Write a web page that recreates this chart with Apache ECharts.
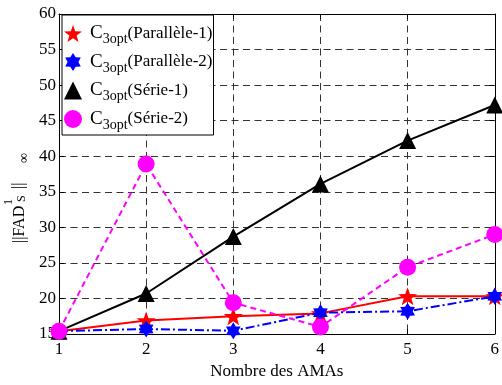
<!DOCTYPE html>
<html>
<head>
<meta charset="utf-8">
<script src="https://cdn.jsdelivr.net/npm/echarts@6/dist/echarts.min.js"></script>
<style>html,body{margin:0;padding:0;background:#fff;}#c{width:502px;height:385px;}</style>
</head>
<body>
<div id="c"></div>
<script>
// ---- data ----
const xValues = [1, 2, 3, 4, 5, 6];
const parallele1 = [15.4, 16.9, 17.5, 17.9, 20.3, 20.3];
const parallele2 = [15.4, 15.7, 15.45, 18.0, 18.2, 20.3];
const serie1 = [15.4, 20.7, 28.7, 36.1, 42.2, 47.2];
const serie2 = [15.4, 38.9, 19.4, 16.0, 24.4, 29.0];
const seriesNames = ['(Parallèle-1)', '(Parallèle-2)', '(Série-1)', '(Série-2)'];
const xLabel = 'Nombre des AMAs';

// ---- styling ----
const FONT = '"Liberation Serif", "Times New Roman", serif';
function starPath(n, inner) {
  const pts = [];
  for (let i = 0; i < 2 * n; i++) {
    const a = -Math.PI / 2 + i * Math.PI / n;
    const r = (i % 2) ? inner : 1;
    pts.push((50 + 50 * r * Math.cos(a)).toFixed(2) + ',' + (50 + 50 * r * Math.sin(a)).toFixed(2));
  }
  return 'path://M' + pts.join('L') + 'Z';
}
const pent = starPath(5, 0.4);
const hexa = starPath(6, 0.6);
const colors = ['#ff0000', '#0000ff', '#000000', '#ff00ff'];
const symbols = [pent, hexa, 'triangle', 'circle'];
const sizes = [19, 17, 17, 17];
const lineTypes = ['solid', [9, 3, 2, 3], 'solid', [6, 4]];
const dataSets = [parallele1, parallele2, serie1, serie2];

const gridDash = { color: '#333', width: 1, type: [7, 4.5] };

// text piece: along = distance along the (rotated) label, base = baseline offset (px, + = lower)
function txt(along, base, s, size) {
  return { type: 'text', x: along, y: base - 0.34 * size,
    style: { text: s, fontSize: size, fontFamily: FONT, fill: '#000', verticalAlign: 'middle', align: 'left' } };
}

const chart = echarts.init(document.getElementById('c'), null, { renderer: 'canvas' });
const option = {
  animation: false,
  backgroundColor: '#fff',
  grid: { left: 59, right: 3, top: 14, bottom: 39, containLabel: false },
  xAxis: [{
    type: 'value', min: 1, max: 6, interval: 1,
    name: xLabel, nameLocation: 'middle', nameGap: 29,
    nameTextStyle: { fontFamily: FONT, fontSize: 17, color: '#000' },
    axisLine: { show: true, onZero: false, lineStyle: { color: '#000', width: 1 } },
    axisTick: { show: true, inside: true, length: 5, lineStyle: { color: '#000' } },
    axisLabel: { fontFamily: FONT, fontSize: 17, color: '#000', margin: 7 },
    splitLine: { show: true, lineStyle: gridDash }
  }, {
    type: 'value', min: 1, max: 6, interval: 1, position: 'top',
    axisLine: { show: true, onZero: false, lineStyle: { color: '#000', width: 1 } },
    axisTick: { show: true, inside: true, length: 5, lineStyle: { color: '#000' } },
    axisLabel: { show: false }, splitLine: { show: false }
  }],
  yAxis: [{
    type: 'value', min: 15, max: 60, interval: 5,
    axisLine: { show: true, onZero: false, lineStyle: { color: '#000', width: 1 } },
    axisTick: { show: true, inside: true, length: 5, lineStyle: { color: '#000' } },
    axisLabel: { fontFamily: FONT, fontSize: 17, color: '#000', margin: 3 },
    splitLine: { show: true, lineStyle: gridDash }
  }, {
    type: 'value', min: 15, max: 60, interval: 5, position: 'right',
    axisLine: { show: true, onZero: false, lineStyle: { color: '#000', width: 1 } },
    axisTick: { show: true, inside: true, length: 5, lineStyle: { color: '#000' } },
    axisLabel: { show: false }, splitLine: { show: false }
  }],
  legend: {
    orient: 'vertical', left: 62, top: 15,
    padding: [9, 1, 3, 2], itemGap: 6, itemWidth: 18, itemHeight: 18,
    backgroundColor: '#fff', borderColor: '#000', borderWidth: 1, borderRadius: 0,
    data: seriesNames.map((n, i) => ({ name: n, icon: symbols[i], itemStyle: { color: colors[i], borderWidth: 0 } })),
    formatter: name => '{c|C}{s|3opt}{n|' + name + '}',
    textStyle: {
      fontFamily: FONT, fontSize: 17, color: '#000',
      rich: {
        c: { fontFamily: FONT, fontSize: 19, color: '#000', lineHeight: 26, verticalAlign: 'middle', padding: [0, 0, 0, 3] },
        s: { fontFamily: FONT, fontSize: 14, color: '#000', lineHeight: 26, verticalAlign: 'bottom' },
        n: { fontFamily: FONT, fontSize: 17, color: '#000', lineHeight: 26, verticalAlign: 'middle' }
      }
    }
  },
  graphic: [{
    type: 'group', x: 25, y: 243, rotation: Math.PI / 2,
    children: [
      txt(0, 0, '||FAD', 16),
      txt(38, -12, '1', 12),
      txt(41, 0.5, 'S', 12),
      txt(54, -1, '||', 16),
      txt(80, 4, '∞', 14)
    ]
  }],
  series: dataSets.map((d, i) => ({
    name: seriesNames[i],
    type: 'line',
    data: xValues.map((x, j) => [x, d[j]]),
    symbol: symbols[i],
    symbolSize: sizes[i],
    symbolKeepAspect: true,
    showAllSymbol: true,
    clip: false,
    z: 2 + i,
    lineStyle: { color: colors[i], width: 2, type: lineTypes[i] },
    itemStyle: { color: colors[i], borderWidth: 0 },
    emphasis: { disabled: true }
  }))
};
chart.setOption(option);
</script>
</body>
</html>
